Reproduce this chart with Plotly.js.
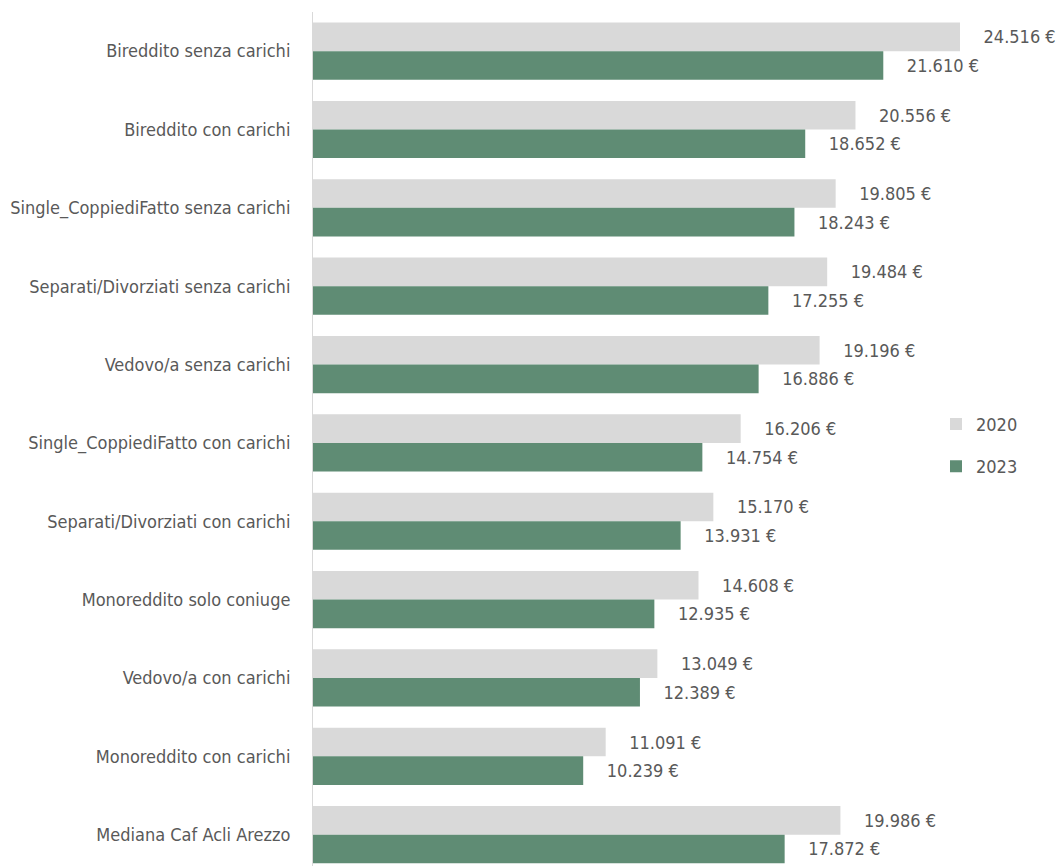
<!DOCTYPE html>
<html>
<head>
<meta charset="utf-8">
<script src="https://cdn.plot.ly/plotly-3.0.1.min.js"></script>
<style>html,body{margin:0;padding:0;background:#fff;}#chart{width:1060px;height:866px;}</style>
</head>
<body>
<div id="chart"></div>
<script>
const categories = [
  "Bireddito senza carichi",
  "Bireddito con carichi",
  "Single_CoppiediFatto senza carichi",
  "Separati/Divorziati senza carichi",
  "Vedovo/a senza carichi",
  "Single_CoppiediFatto con carichi",
  "Separati/Divorziati con carichi",
  "Monoreddito solo coniuge",
  "Vedovo/a con carichi",
  "Monoreddito con carichi",
  "Mediana Caf Acli Arezzo"
];
const values2020 = [24516, 20556, 19805, 19484, 19196, 16206, 15170, 14608, 13049, 11091, 19986];
const values2023 = [21610, 18652, 18243, 17255, 16886, 14754, 13931, 12935, 12389, 10239, 17872];
const seriesNames = ["2020", "2023"];

const FONT = "'Liberation Sans Narrow', 'DejaVu Sans Condensed', 'Roboto Condensed', sans-serif";
const TXT = "#595959";

function mk(name, vals, color) {
  return {
    type: "bar",
    orientation: "h",
    name: name,
    legendgroup: name,
    y: categories,
    x: vals,
    marker: {color: color},
    texttemplate: "    %{x:,.0f} €",
    textposition: "outside",
    cliponaxis: false,
    constraintext: "none",
    textfont: {family: FONT, size: 18, color: TXT},
    hoverinfo: "skip"
  };
}

const data = [
  mk(seriesNames[0], values2020, "#d9d9d9"),
  mk(seriesNames[1], values2023, "#5f8c74")
];

const layout = {
  width: 1060,
  height: 866,
  margin: {l: 313, r: 0, t: 12, b: 0},
  paper_bgcolor: "#ffffff",
  plot_bgcolor: "#ffffff",
  separators: ",.",
  barmode: "group",
  bargap: 0.27,
  bargroupgap: 0,
  font: {family: FONT, color: TXT, size: 18},
  xaxis: {
    range: [0, 28306],
    visible: false,
    showgrid: false,
    zeroline: false,
    fixedrange: true
  },
  yaxis: {
    type: "category",
    categoryorder: "array",
    categoryarray: categories,
    range: [10.4, -0.5],
    showline: true,
    linecolor: "#d9d9d9",
    linewidth: 1,
    ticks: "",
    showgrid: false,
    zeroline: false,
    ticklabelstandoff: 18,
    tickfont: {family: FONT, size: 18, color: TXT}
  },
  showlegend: true,
  legend: {
    x: 0.834,
    xanchor: "left",
    y: 0.539,
    yanchor: "top",
    traceorder: "grouped",
    tracegroupgap: 16,
    font: {family: FONT, size: 18, color: TXT},
    bgcolor: "rgba(0,0,0,0)",
    itemwidth: 30
  }
};

Plotly.newPlot("chart", data, layout, {displayModeBar: false, staticPlot: true});
</script>
</body>
</html>
